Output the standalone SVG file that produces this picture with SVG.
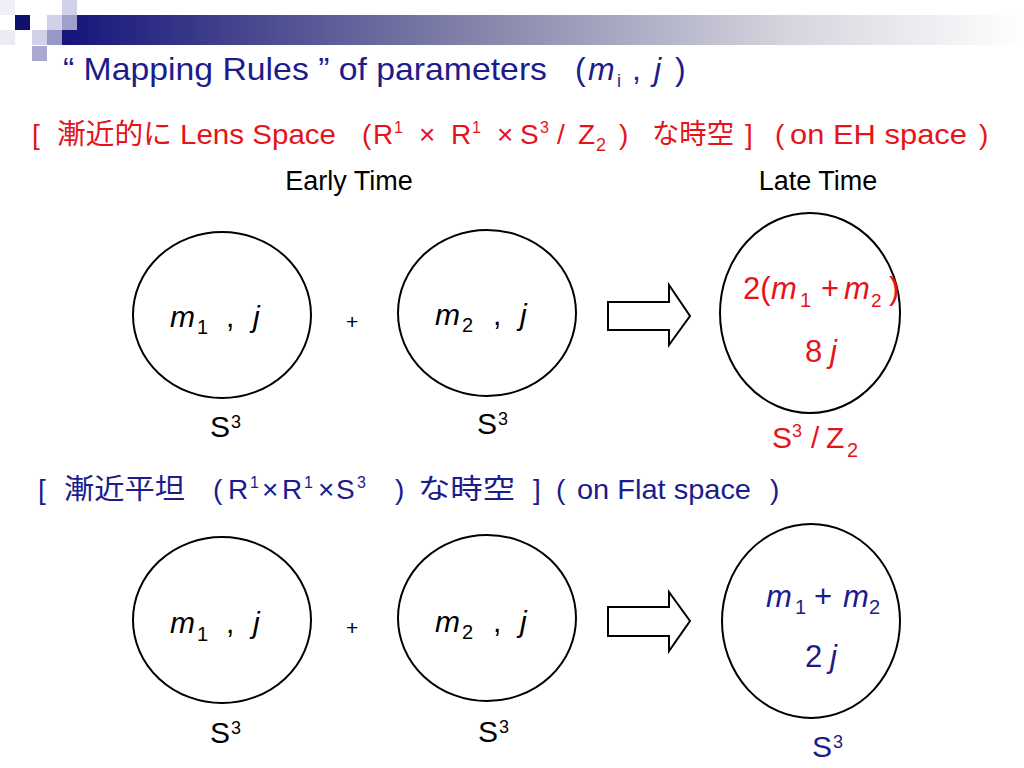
<svg xmlns="http://www.w3.org/2000/svg" width="1024" height="768" viewBox="0 0 1024 768">
<defs>
<linearGradient id="bar" x1="0" y1="0" x2="1" y2="0">
<stop offset="0" stop-color="#14147a"/>
<stop offset="0.4" stop-color="#7c7ca6"/>
<stop offset="0.75" stop-color="#d4d4de"/>
<stop offset="1" stop-color="#ffffff"/>
</linearGradient>
<style>
.t{font-family:"Liberation Sans",Arial,sans-serif}
.cj{font-family:"Noto Sans CJK JP","Liberation Sans",sans-serif}
.i{font-style:italic}
.navy{fill:#1c1c8a}
.red{fill:#e5141b}
.blk{fill:#000}
.ring{fill:none;stroke:#000;stroke-width:2}
.arr{fill:#fff;stroke:#000;stroke-width:2;stroke-linejoin:miter}
</style>
</defs>
<rect width="1024" height="768" fill="#fff"/>
<g id="decor">
<rect x="62" y="15" width="962" height="30" fill="url(#bar)"/>
<rect x="0" y="0" width="15" height="15" fill="#eeeef6"/>
<rect x="0" y="30" width="15" height="15" fill="#ebebf4"/>
<rect x="62" y="0" width="15" height="15" fill="#d0d0e6"/>
<rect x="15" y="15" width="15" height="15" fill="#10106f"/>
<rect x="47" y="15" width="15" height="15" fill="#d0d0e6"/>
<rect x="62" y="15" width="15" height="15" fill="#a0a0cc"/>
<rect x="32" y="30" width="15" height="15" fill="#d0d0e6"/>
<rect x="47" y="30" width="15" height="15" fill="#9898c6"/>
<rect x="32" y="46" width="15" height="15" fill="#a8a8d0"/>
</g>
<g id="title" class="t navy" font-size="32">
<text x="63" y="80" textLength="484" lengthAdjust="spacingAndGlyphs">“ Mapping Rules ” of parameters</text>
<text x="575" y="80">(</text>
<text x="588" y="80" class="i">m</text>
<text x="617" y="87" font-size="18">i</text>
<text x="632" y="80">,</text>
<text x="654" y="80" class="i">j</text>
<text x="675" y="80">)</text>
</g>
<g id="heading-lens" class="red" font-size="28">
<text x="32" y="144" class="t">[</text>
<text x="57" y="144" class="cj" textLength="115" lengthAdjust="spacingAndGlyphs">漸近的に</text>
<text x="180" y="144" class="t" textLength="156" lengthAdjust="spacingAndGlyphs">Lens Space</text>
<text x="362" y="144" class="t">(</text>
<text x="373" y="144" class="t">R</text>
<text x="394" y="133" class="t" font-size="16">1</text>
<text x="419" y="144" class="t">×</text>
<text x="451" y="144" class="t">R</text>
<text x="472" y="133" class="t" font-size="16">1</text>
<text x="497" y="144" class="t">×</text>
<text x="520" y="144" class="t">S</text>
<text x="540" y="133" class="t" font-size="16">3</text>
<text x="557" y="144" class="t">/</text>
<text x="578" y="144" class="t">Z</text>
<text x="596" y="151" class="t" font-size="18">2</text>
<text x="619" y="144" class="t">)</text>
<text x="652" y="144" class="cj" textLength="82" lengthAdjust="spacingAndGlyphs">な時空</text>
<text x="745" y="144" class="t">]</text>
<text x="775" y="144" class="t">(</text>
<text x="790" y="144" class="t" textLength="177" lengthAdjust="spacingAndGlyphs">on EH space</text>
<text x="979" y="144" class="t">)</text>
</g>
<g id="time-labels" class="t blk" font-size="27" text-anchor="middle">
<text x="349" y="190">Early Time</text>
<text x="818" y="190">Late Time</text>
</g>
<g id="top-s3-a">
<ellipse class="ring" cx="222" cy="315" rx="89" ry="83"/>
<g class="t blk" font-size="30">
<text x="170" y="327" class="i">m</text>
<text x="197" y="334" font-size="20">1</text>
<text x="226" y="327">,</text>
<text x="253" y="327" class="i">j</text>
<text x="210" y="437">S</text>
<text x="231" y="428" font-size="18">3</text>
</g>
</g>
<g id="top-plus"><text x="346" y="329" class="t blk" font-size="21">+</text></g>
<g id="top-s3-b">
<ellipse class="ring" cx="487" cy="313" rx="89" ry="83"/>
<g class="t blk" font-size="30">
<text x="435" y="325" class="i">m</text>
<text x="462" y="332" font-size="20">2</text>
<text x="493" y="325">,</text>
<text x="520" y="325" class="i">j</text>
<text x="477" y="434">S</text>
<text x="498" y="425" font-size="18">3</text>
</g>
</g>
<g id="top-lens">
<ellipse class="ring" cx="810" cy="313" rx="90" ry="100"/>
<g class="t red" font-size="31">
<text x="743" y="299">2(</text>
<text x="771" y="299" class="i">m</text>
<text x="800" y="307" font-size="20">1</text>
<text x="821" y="299">+</text>
<text x="844" y="299" class="i">m</text>
<text x="871" y="307" font-size="19">2</text>
<text x="889" y="299">)</text>
<text x="805" y="362">8</text>
<text x="830" y="362" class="i">j</text>
<text x="772" y="448" font-size="30">S</text>
<text x="792" y="437" font-size="18">3</text>
<text x="811" y="448" font-size="30">/</text>
<text x="826" y="448" font-size="30">Z</text>
<text x="847" y="457" font-size="20">2</text>
</g>
</g>
<g id="heading-flat" class="navy" font-size="28">
<text x="38" y="499" class="t">[</text>
<text x="64" y="499" class="cj" textLength="121" lengthAdjust="spacingAndGlyphs">漸近平坦</text>
<text x="213" y="499" class="t">(</text>
<text x="228" y="499" class="t">R</text>
<text x="250" y="488" class="t" font-size="16">1</text>
<text x="262" y="499" class="t">×</text>
<text x="282" y="499" class="t">R</text>
<text x="304" y="488" class="t" font-size="16">1</text>
<text x="318" y="499" class="t">×</text>
<text x="336" y="499" class="t">S</text>
<text x="357" y="488" class="t" font-size="16">3</text>
<text x="395" y="499" class="t">)</text>
<text x="418" y="499" class="cj" textLength="97" lengthAdjust="spacingAndGlyphs">な時空</text>
<text x="533" y="499" class="t">]</text>
<text x="556" y="499" class="t">(</text>
<text x="577" y="499" class="t" textLength="174" lengthAdjust="spacingAndGlyphs">on Flat space</text>
<text x="770" y="499" class="t">)</text>
</g>
<g id="bot-s3-a">
<ellipse class="ring" cx="222" cy="620" rx="89" ry="83"/>
<g class="t blk" font-size="30">
<text x="170" y="633" class="i">m</text>
<text x="197" y="641" font-size="20">1</text>
<text x="226" y="633">,</text>
<text x="253" y="633" class="i">j</text>
<text x="210" y="743">S</text>
<text x="231" y="734" font-size="18">3</text>
</g>
</g>
<g id="bot-plus"><text x="346" y="635" class="t blk" font-size="21">+</text></g>
<g id="bot-s3-b">
<ellipse class="ring" cx="487" cy="618" rx="89" ry="83"/>
<g class="t blk" font-size="30">
<text x="435" y="632" class="i">m</text>
<text x="462" y="639" font-size="20">2</text>
<text x="493" y="632">,</text>
<text x="520" y="632" class="i">j</text>
<text x="478" y="742">S</text>
<text x="499" y="733" font-size="18">3</text>
</g>
</g>
<g id="bot-flat">
<ellipse class="ring" cx="811" cy="621" rx="89" ry="97"/>
<g class="t navy" font-size="31">
<text x="766" y="607" class="i">m</text>
<text x="795" y="614" font-size="20">1</text>
<text x="814" y="607">+</text>
<text x="843" y="607" class="i">m</text>
<text x="869" y="614" font-size="20">2</text>
<text x="805" y="667">2</text>
<text x="830" y="667" class="i">j</text>
<text x="812" y="757" font-size="30">S</text>
<text x="833" y="748" font-size="18">3</text>
</g>
</g>
<g id="connectors">
<polygon class="arr" points="608,302 669,302 669,285 690,316 669,345 669,330 608,330"/>
<polygon class="arr" points="608,607 669,607 669,592 690,621 669,651 669,636 608,636"/>
</g>
</svg>
